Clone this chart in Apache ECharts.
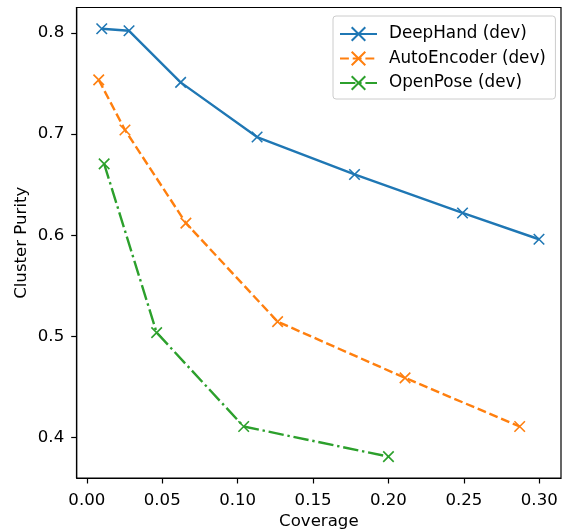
<!DOCTYPE html>
<html>
<head>
<meta charset="utf-8">
<script src="https://cdn.jsdelivr.net/npm/echarts@6/dist/echarts.min.js"></script>
<style>html,body{margin:0;padding:0;background:#fff}#c{width:565px;height:530px}</style>
</head>
<body>
<div id="c"></div>
<script>
const seriesNames = ['DeepHand (dev)', 'AutoEncoder (dev)', 'OpenPose (dev)'];
const deepHandCoverage = [0.0099, 0.028, 0.0622, 0.1129, 0.1775, 0.2491, 0.2998];
const deepHandPurity   = [0.804, 0.802, 0.751, 0.697, 0.660, 0.622, 0.596];
const autoEncCoverage  = [0.0079, 0.0253, 0.0657, 0.1265, 0.211, 0.287];
const autoEncPurity    = [0.7535, 0.704, 0.612, 0.5146, 0.459, 0.411];
const openPoseCoverage = [0.0115, 0.0463, 0.104, 0.200];
const openPosePurity   = [0.6705, 0.5038, 0.411, 0.3812];
const xTicks = [0, 0.05, 0.10, 0.15, 0.20, 0.25, 0.30];
const yTicks = [0.4, 0.5, 0.6, 0.7, 0.8];

const colors = ['#1f77b4', '#ff7f0e', '#2ca02c'];
const lw = 2.4;
const dashes = ['solid', [8.9, 3.8], [15.4, 3.8, 2.4, 3.8]];
const xPath = 'path://M0,0L10,10M10,0L0,10';
const font = 'DejaVu Sans';
const fs = 16.6;

function zip(a, b) { return a.map((v, i) => [v, b[i]]); }
const dataSets = [
  zip(deepHandCoverage, deepHandPurity),
  zip(autoEncCoverage, autoEncPurity),
  zip(openPoseCoverage, openPosePurity)
];

const chart = echarts.init(document.getElementById('c'), null, {renderer: 'canvas'});
chart.setOption({
  animation: false,
  backgroundColor: '#fff',
  grid: {left: 76.7, right: 4, top: 7.5, bottom: 52, containLabel: false, outerBoundsMode: 'none',
         show: true, borderColor: '#000', borderWidth: 1.2, backgroundColor: 'transparent'},
  xAxis: {
    type: 'value', min: -0.0067, max: 0.3144,
    name: 'Coverage', nameLocation: 'middle', nameGap: 35.5, nameMoveOverlap: false,
    nameTextStyle: {fontFamily: font, fontSize: fs, color: '#000'},
    axisLine: {show: true, onZero: false, lineStyle: {color: '#000', width: 1.2}},
    axisTick: {show: true, length: 5.5, lineStyle: {color: '#000', width: 1.2}, customValues: xTicks},
    axisLabel: {fontFamily: font, fontSize: fs, color: '#000', margin: 14.5, customValues: xTicks, formatter: v => v.toFixed(2)},
    splitLine: {show: false}
  },
  yAxis: {
    type: 'value', min: 0.3601, max: 0.825,
    name: 'Cluster Purity', nameLocation: 'middle', nameGap: 46.5, nameMoveOverlap: false,
    nameTextStyle: {fontFamily: font, fontSize: fs, color: '#000'},
    axisLine: {show: true, onZero: false, lineStyle: {color: '#000', width: 1.2}},
    axisTick: {show: true, length: 5.5, lineStyle: {color: '#000', width: 1.2}, customValues: yTicks},
    axisLabel: {fontFamily: font, fontSize: fs, color: '#000', margin: 12.5, customValues: yTicks, formatter: v => v.toFixed(1)},
    splitLine: {show: false}
  },
  legend: {
    orient: 'vertical', left: 333, top: 16,
    padding: [9.5, 9.5, 7.5, 6],
    itemWidth: 37, itemHeight: 17, itemGap: 7.5,
    backgroundColor: 'rgba(255,255,255,0.8)', borderColor: '#cccccc', borderWidth: 1, borderRadius: 3,
    textStyle: {fontFamily: font, fontSize: 16.8, color: '#000', lineHeight: 17, padding: [0, 0, 0, 7]},
    data: seriesNames
  },
  series: seriesNames.map((n, i) => ({
    name: n, type: 'line', data: dataSets[i],
    symbol: xPath, symbolSize: 10.5,
    color: colors[i],
    itemStyle: {color: colors[i], borderColor: colors[i], borderWidth: 1.6},
    lineStyle: {color: colors[i], width: lw, type: dashes[i]},
    emphasis: {disabled: true}
  }))
});
</script>
</body>
</html>
